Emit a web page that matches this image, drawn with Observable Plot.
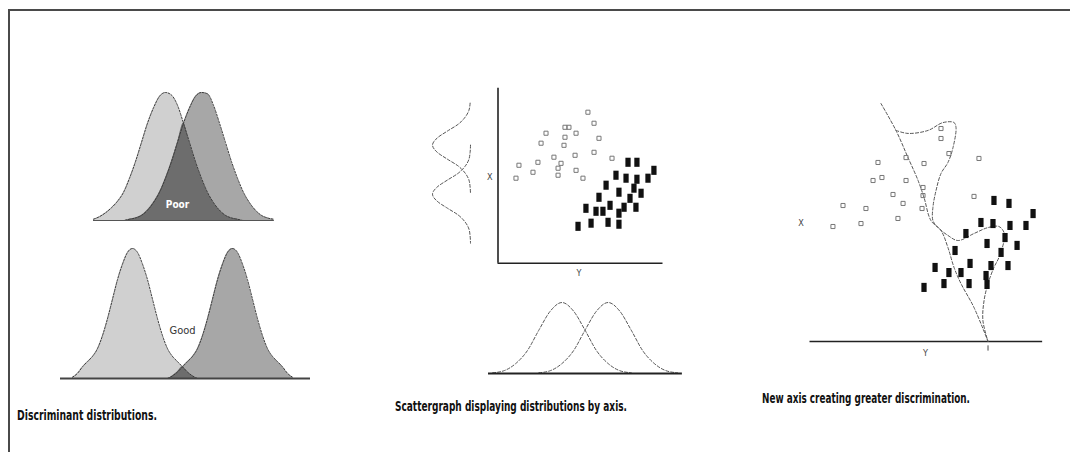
<!DOCTYPE html>
<html><head><meta charset="utf-8">
<script src="https://cdn.jsdelivr.net/npm/d3@7"></script>
<script src="https://cdn.jsdelivr.net/npm/@observablehq/plot@0.6"></script>
<style>
html,body{margin:0;padding:0;background:#fff;}
#fig{position:relative;width:1070px;height:452px;overflow:hidden;background:#fff;font-family:"Liberation Sans Narrow","DejaVu Sans Condensed","Liberation Sans",sans-serif;}
#frame{position:absolute;left:8px;top:9px;right:-4px;bottom:-4px;border-top:2px solid #4a4a4a;border-left:2px solid #4a4a4a;}
.part{position:absolute;}
.part svg{overflow:visible;display:block;}
.cap{position:absolute;white-space:nowrap;font-weight:bold;font-size:14px;line-height:14px;color:#111;transform-origin:0 0;}
</style></head><body><div id="fig"><div id="frame"></div></div>
<script>
// ---------- Panel 1: discriminant distributions ----------
const topU     = [-12,-11,-10,-9,-8,-7,-6,-5,-4,-3,-2,-1,0,1,2,3,4,5,6,7,8,9,10,11,12,13,14,15,16,17,18];
const topLight = [0.01,0.03,0.06,0.10,0.15,0.22,0.33,0.46,0.61,0.76,0.88,0.97,1,0.98,0.90,0.76,0.61,0.46,0.33,0.22,0.14,0.08,0.04,0.02,0.01,0,0,0,0,0,0];
const topDark  = [0,0,0,0,0,0,0.01,0.02,0.04,0.08,0.14,0.22,0.33,0.46,0.61,0.76,0.88,0.97,1,0.99,0.90,0.76,0.61,0.46,0.33,0.22,0.14,0.08,0.04,0.02,0.01];
const botU     = [-12,-11,-10,-9,-8,-7,-6,-5,-4,-3,-2,-1,0,1,2,3,4,5,6,7,8,9,10,11,12,13,14,15,16,17,18,19,20,21,22,23,24,25,26,27,28,29,30,31,32];
const botLight = [0.01,0.04,0.09,0.13,0.17,0.23,0.33,0.46,0.61,0.76,0.88,0.97,1,0.97,0.88,0.76,0.61,0.46,0.33,0.23,0.17,0.13,0.09,0.05,0.02,0,0,0,0,0,0,0,0,0,0,0,0,0,0,0,0,0,0,0,0];
const botDark  = [0,0,0,0,0,0,0,0,0,0,0,0,0,0,0,0,0,0,0,0,0.02,0.05,0.09,0.13,0.17,0.23,0.33,0.46,0.61,0.76,0.88,0.97,1,0.97,0.88,0.76,0.61,0.46,0.33,0.23,0.17,0.13,0.09,0.04,0.01];
const overlapLabels = ["Poor", "Good"];

// ---------- Panel 2: scattergraph ----------
const midOpenX = [5.45,5.82,2.91,4.06,4.30,4.73,6.12,4.06,2.61,4.00,5.82,4.67,3.39,6.91,2.42,1.27,3.82,2.12,3.64,3.64,4.73,1.09,5.15];
const midOpenY = [8.63,8.00,7.43,7.77,7.77,7.43,7.14,7.20,6.86,6.74,6.34,6.17,6.06,6.00,5.77,5.60,5.71,5.20,5.43,5.03,5.31,4.86,4.86];
const midFillX = [7.88,8.42,9.45,7.15,7.76,8.42,9.09,6.55,8.24,7.33,8.67,6.12,8.00,6.79,7.64,8.36,5.33,5.94,6.36,7.33,5.64,6.67,7.33,4.85];
const midFillY = [5.77,5.77,5.31,5.03,4.86,4.80,4.86,4.46,4.29,4.06,4.00,3.77,3.71,3.31,3.20,3.20,3.14,2.97,2.97,2.86,2.29,2.34,2.23,2.11];
const sideY    = [9.15,8.75,8.35,7.95,7.55,7.15,6.75,6.35,5.95,5.55,5.15,4.75,4.35,3.95,3.55,3.15,2.75,2.35,1.95,1.55,1.15];
const sideA    = [0.01,0.04,0.14,0.32,0.61,0.88,1,0.88,0.61,0.32,0.14,0.04,0.01,0,null,null,null,null,null,null,null];
const sideB    = [null,null,null,null,null,null,0,0.01,0.04,0.14,0.32,0.61,0.88,1,0.88,0.61,0.32,0.14,0.04,0.01,0];
const baseX    = [-0.3,0.4,1.1,1.8,2.5,3.2,3.9,4.6,5.3,6.0,6.7,7.4,8.1,8.8,9.5,10.2,10.9];
const baseA    = [0.01,0.04,0.14,0.32,0.61,0.88,1,0.88,0.61,0.32,0.14,0.04,0.01,null,null,null,null];
const baseB    = [null,null,null,null,0.01,0.04,0.14,0.32,0.61,0.88,1,0.88,0.61,0.32,0.14,0.04,0.01];
const axisNames = ["Y", "X"];

// ---------- Panel 3: new axis ----------
const newOpenX = [4.12,5.82,6.91,8.42,7.94,7.94,10.24,3.82,4.36,5.82,5.03,5.64,6.85,6.85,6.79,2.00,3.39,1.39,3.09,5.33,9.94];
const newOpenY = [10.23,10.51,10.17,10.74,12.17,11.60,10.46,9.20,9.37,9.20,8.40,7.89,8.80,8.34,7.60,7.77,7.60,6.57,6.74,7.03,8.29];
const newFillX = [11.15,12.06,13.52,10.36,11.09,12.12,13.09,9.45,10.73,11.82,12.55,8.79,11.58,7.58,8.42,9.15,9.70,10.97,12.00,10.67,6.91,8.12,9.64,10.73];
const newFillY = [8.06,7.89,7.31,6.80,6.74,6.63,6.63,6.17,5.60,5.94,5.49,5.20,5.09,4.23,3.94,3.94,4.46,4.34,4.34,3.77,3.09,3.31,3.31,3.26];
const axisLineX = [4.30,5.21,5.94,6.55,6.91,7.33,7.94,8.36,8.73,9.15,9.94,10.79];
const axisLineY = [13.60,12.06,10.51,9.20,8.23,6.91,6.34,5.37,4.23,3.31,1.94,0];
const projX = [5.21,5.94,7.15,8.06,8.73,8.85,8.67,8.36,7.94,7.64,7.45,7.45,7.76,8.36,8.97,9.94,10.79,11.45,11.76,11.76,11.45,11.15,10.79,10.55,10.48,10.79];
const projY = [12.06,11.89,12.06,12.51,12.51,12.23,11.09,10.23,9.60,8.63,7.66,6.91,6.51,6.06,5.77,6.17,6.51,6.57,6.23,5.77,4.80,4.23,3.31,2.34,1.20,0];

const captions = ["Discriminant distributions.", "Scattergraph displaying distributions by axis.", "New axis creating greater discrimination."];

// ---------- helpers ----------
const M = 6;
const fig = document.getElementById("fig");
const FONT = '"Liberation Sans Narrow","DejaVu Sans Condensed","Liberation Sans",sans-serif';
function place(svg, left, top) {
  const d = document.createElement("div");
  d.className = "part";
  d.style.left = (left - M) + "px";
  d.style.top = (top - M) + "px";
  d.append(svg);
  fig.append(d);
}
function mk(w, h, x, y, marks) {
  return Plot.plot({
    width: w + 2 * M, height: h + 2 * M, margin: M,
    x: Object.assign({axis: null}, x), y: Object.assign({axis: null}, y),
    style: {background: "transparent", overflow: "visible", fontFamily: FONT},
    marks
  });
}
const zip2 = (xs, ys, kx, ky) => xs.map((v, i) => ({[kx]: v, [ky]: ys[i]})).filter(d => d[ky] != null && d[kx] != null);
const rectSym = {draw(ctx, size) { const s = Math.sqrt(size / Math.PI); const w = s * 0.75, h = s * 1.3; ctx.rect(-w, -h, 2 * w, 2 * h); }};

const LIGHT = "#d0d0d0", DARK = "#a7a7a7", OVER = "#6d6d6d", EDGE = "#3a3a3a";

// Panel 1 top
{
  const data = topU.map((u, i) => ({u, a: topLight[i], b: topDark[i], o: Math.min(topLight[i], topDark[i])}));
  place(mk(192, 128, {domain: [-13, 19]}, {domain: [0, 1]}, [
    Plot.areaY(data, {x: "u", y: "a", fill: LIGHT, curve: "monotone-x"}),
    Plot.areaY(data, {x: "u", y: "b", fill: DARK, curve: "monotone-x"}),
    Plot.areaY(data, {x: "u", y: "o", fill: OVER, curve: "monotone-x"}),
    Plot.lineY(data, {x: "u", y: "a", stroke: EDGE, strokeWidth: 1, strokeDasharray: "2,1.5", curve: "monotone-x"}),
    Plot.lineY(data, {x: "u", y: "b", stroke: EDGE, strokeWidth: 1, strokeDasharray: "2,1.5", curve: "monotone-x"}),
    Plot.ruleY([0], {x1: -12, x2: 18, stroke: "#555", strokeWidth: 1}),
    Plot.text([overlapLabels[0]], {x: 2, y: 0.12, text: d => d, fill: "#fff", fontWeight: "bold", fontSize: 10})
  ]), 87, 92);
}
// Panel 1 bottom
{
  const data = botU.map((u, i) => ({u, a: botLight[i], b: botDark[i], o: Math.min(botLight[i], botDark[i])}));
  place(mk(250, 130, {domain: [-14.4, 35.6]}, {domain: [0, 1]}, [
    Plot.areaY(data, {x: "u", y: "a", fill: LIGHT, curve: "monotone-x"}),
    Plot.areaY(data, {x: "u", y: "b", fill: DARK, curve: "monotone-x"}),
    Plot.areaY(data, {x: "u", y: "o", fill: OVER, curve: "monotone-x"}),
    Plot.lineY(data.filter(d => d.u <= 13), {x: "u", y: "a", stroke: EDGE, strokeWidth: 1, strokeDasharray: "2,1.5", curve: "monotone-x"}),
    Plot.lineY(data.filter(d => d.u >= 7), {x: "u", y: "b", stroke: EDGE, strokeWidth: 1, strokeDasharray: "2,1.5", curve: "monotone-x"}),
    Plot.ruleY([0], {stroke: "#444", strokeWidth: 2}),
    Plot.text([overlapLabels[1]], {x: 10, y: 0.37, text: d => d, fill: "#333", fontSize: 11})
  ]), 60, 248);
}
// Panel 2 scatter
place(mk(181.5, 194.25, {domain: [-1, 10]}, {domain: [-1, 10.1]}, [
  Plot.ruleX([0], {y1: 0, y2: 10, stroke: "#222", strokeWidth: 1.6}),
  Plot.ruleY([0], {x1: 0, x2: 10, stroke: "#222", strokeWidth: 1.6}),
  Plot.dot(zip2(midOpenX, midOpenY, "x", "y"), {x: "x", y: "y", symbol: "square", r: 2.3, stroke: "#777", strokeWidth: 1, fill: "none"}),
  Plot.dot(zip2(midFillX, midFillY, "x", "y"), {x: "x", y: "y", symbol: rectSym, r: 3.5, fill: "#111", stroke: "none"}),
  Plot.text([axisNames[0]], {x: 4.9, y: -0.57, text: d => d, fill: "#444", fontSize: 9}),
  Plot.text([axisNames[1]], {x: -0.5, y: 4.9, text: d => d, fill: "#444", fontSize: 9})
]), 480.5, 86.25);
// Panel 2 side distributions
place(mk(38, 194.25, {domain: [0, 1], reverse: true}, {domain: [-1, 10.1]}, [
  Plot.lineX(zip2(sideY, sideA, "y", "d"), {x: "d", y: "y", stroke: "#555", strokeWidth: 1, strokeDasharray: "3,2", curve: "monotone-y"}),
  Plot.lineX(zip2(sideY, sideB, "y", "d"), {x: "d", y: "y", stroke: "#555", strokeWidth: 1, strokeDasharray: "3,2", curve: "monotone-y"})
]), 432, 86.25);
// Panel 2 bottom distributions
place(mk(193.9, 71, {domain: [-0.55, 11.2]}, {domain: [0, 1]}, [
  Plot.lineY(zip2(baseX, baseA, "x", "d"), {x: "x", y: "d", stroke: "#555", strokeWidth: 1, strokeDasharray: "3,2", curve: "monotone-x"}),
  Plot.lineY(zip2(baseX, baseB, "x", "d"), {x: "x", y: "d", stroke: "#555", strokeWidth: 1, strokeDasharray: "3,2", curve: "monotone-x"}),
  Plot.ruleY([0], {stroke: "#222", strokeWidth: 2})
]), 488, 302);
// Panel 3
place(mk(249.15, 262.5, {domain: [-1, 14.1]}, {domain: [-1, 14]}, [
  Plot.ruleY([0], {x1: 0, x2: 14.1, stroke: "#222", strokeWidth: 1.6}),
  Plot.ruleX([10.79], {y1: -0.25, y2: -0.55, stroke: "#444", strokeWidth: 1}),
  Plot.line(zip2(axisLineX, axisLineY, "x", "y"), {x: "x", y: "y", stroke: "#555", strokeWidth: 1, strokeDasharray: "3,2", curve: "catmull-rom"}),
  Plot.line(zip2(projX, projY, "x", "y"), {x: "x", y: "y", stroke: "#555", strokeWidth: 1, strokeDasharray: "3,2", curve: "catmull-rom"}),
  Plot.dot(zip2(newOpenX, newOpenY, "x", "y"), {x: "x", y: "y", symbol: "square", r: 2.3, stroke: "#777", strokeWidth: 1, fill: "none"}),
  Plot.dot(zip2(newFillX, newFillY, "x", "y"), {x: "x", y: "y", symbol: rectSym, r: 3.5, fill: "#111", stroke: "none"}),
  Plot.text([axisNames[0]], {x: 7.0, y: -0.65, text: d => d, fill: "#444", fontSize: 9}),
  Plot.text([axisNames[1]], {x: -0.55, y: 6.74, text: d => d, fill: "#444", fontSize: 9})
]), 792.5, 96);

// Captions
const capPos = [[17, 420, 140], [395, 411, 232], [762, 403, 208]];
captions.forEach((t, i) => {
  const d = document.createElement("div");
  d.className = "cap";
  d.textContent = t;
  d.style.left = capPos[i][0] + "px";
  d.style.top = (capPos[i][1] - 12) + "px";
  fig.append(d);
  const w = d.getBoundingClientRect().width;
  d.style.transform = `scaleX(${capPos[i][2] / w})`;
});
</script>
</body></html>
